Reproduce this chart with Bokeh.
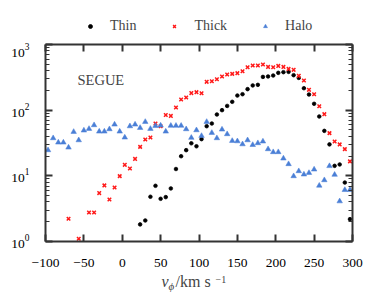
from bokeh.plotting import figure
from bokeh.layouts import column
from bokeh.models import (Legend, LegendItem, LinearAxis, LogAxis, FixedTicker, Label,
                          CustomJSTickFormatter, Range1d)
from bokeh.embed import file_html
from bokeh.resources import INLINE

nan = float("nan")

# bin centres (km/s)
v_phi = [-96.7, -90.0, -83.3, -76.7, -70.0, -63.3, -56.7, -50.0, -43.3, -36.7,
         -30.0, -23.3, -16.7, -10.0, -3.3, 3.3, 10.0, 16.7, 23.3, 30.0,
         36.7, 43.3, 50.0, 56.7, 63.3, 70.0, 76.7, 83.3, 90.0, 96.7,
         103.3, 110.0, 116.7, 123.3, 130.0, 136.7, 143.3, 150.0, 156.7, 163.3,
         170.0, 176.7, 183.3, 190.0, 196.7, 203.3, 210.0, 216.7, 223.3, 230.0,
         236.7, 243.3, 250.0, 256.7, 263.3, 270.0, 276.7, 283.3, 290.0, 296.7]

thin = [nan, nan, nan, nan, nan, nan, nan, nan, nan, nan,
        nan, nan, nan, nan, nan, nan, nan, nan, 1.82, 2.09,
        4.8, 7.05, 4.47, 4.74, 6.43, 12.7, 19.9, 24.6, 31.3, 28.2,
        36.2, 57.0, 62.6, 85.9, 100, 116, 134, 167, 175, 209,
        238, 243, 321, 326, 337, 370, 379, 383, 341, 310,
        216, 173, 125, 80.1, 48.4, 30.1, 14.2, 14.9, 7.9, 2.19]

thick = [nan, nan, nan, nan, 2.22, nan, 1.1, nan, 2.77, 2.77,
         5.46, 7.15, 4.37, 6.66, 9.9, 14.7, 12.9, 18.1, 27.6, 35.8,
         38.4, 62.5, 57.0, 84.3, 81.8, 110, 145, 156, 182, 188,
         181, 270, 276, 296, 326, 349, 357, 366, 392, 451,
         479, 479, 496, 456, 451, 472, 456, 425, 411, 333,
         283, 204, 175, 115, 86.9, 44.7, 33.4, 30.1, 25.5, 16.6]

halo = [24.6, 37.5, 32.2, 32.2, 27.0, 46.8, 34.9, 49.1, 52.0, 59.2,
        47.3, 47.3, 51.4, 60.5, 47.3, 38.4, 57.0, 60.5, 53.8, 66.4,
        52.0, 57.7, 58.4, 47.3, 58.0, 58.0, 58.0, 51.4, 38.0, 49.6,
        40.6, 66.4, 45.2, 37.5, 50.8, 43.2, 34.1, 33.7, 30.3, 34.9,
        29.6, 31.5, 33.4, 25.5, 23.0, 23.0, 18.4, 15.1, 9.9, 11.8,
        10.5, 11.1, 12.5, 7.1, 8.6, 14.1, 10.4, 4.1, 6.1, 6.1]

series_names = ["Thin", "Thick", "Halo"]
x_ticks = [-100, -50, 0, 50, 100, 150, 200, 250, 300]
x_tick_labels = {-100: "\u2212100", -50: "\u221250"}
y_ticks = [1, 10, 100, 1000]
y_minor = [m * 10 ** e for e in range(3) for m in range(2, 10)]

FONT = "Liberation Serif"
AX = "#333333"
W = 366

STY = [dict(marker="circle", size=3.6, fill_color="black", line_color="black", line_width=0.8),
       dict(marker="x", size=5, line_color="#ff1a1a", line_width=1.5),
       dict(marker="triangle", size=5.5, fill_color="#4a7fd6", line_color="#4a7fd6", line_width=0.5)]


def strip(h):
    f = figure(width=W, height=h, output_backend="svg", toolbar_location=None,
               x_axis_location=None, y_axis_location=None,
               x_range=Range1d(-100, 300), y_range=Range1d(1, 1000), y_axis_type="log",
               min_border=0, min_border_left=0, min_border_right=0,
               min_border_top=0, min_border_bottom=0)
    f.xgrid.visible = False
    f.ygrid.visible = False
    f.outline_line_color = None
    return f


# ---- legend strip ----
top = strip(42)
leg_r = [top.scatter(v_phi, vals, visible=False, **s) for vals, s in zip([thin, thick, halo], STY)]
legend = Legend(items=[LegendItem(label=n, renderers=[r]) for n, r in zip(series_names, leg_r)],
                orientation="horizontal", location=(40, 8),
                glyph_width=10, glyph_height=10, label_standoff=15, spacing=33,
                padding=0, margin=0, border_line_color=None, background_fill_alpha=0,
                inactive_fill_alpha=0,
                label_text_font=FONT, label_text_font_size="14px")
top.add_layout(legend, "center")

# ---- main plot ----
p = figure(width=W, height=229, output_backend="svg", toolbar_location=None,
           x_range=Range1d(-100, 300), y_range=Range1d(1, 1000), y_axis_type="log",
           min_border_left=45, min_border_right=14, min_border_top=2, min_border_bottom=30)
p.xgrid.visible = False
p.ygrid.visible = False
p.outline_line_color = None
p.background_fill_color = "white"

blank = CustomJSTickFormatter(code="return ''")


def style(ax):
    ax.axis_line_color = AX
    ax.axis_line_width = 2
    ax.major_tick_line_color = AX
    ax.major_tick_line_width = 2
    ax.major_tick_in = 7
    ax.major_tick_out = 0
    ax.minor_tick_line_color = AX
    ax.minor_tick_line_width = 1
    ax.minor_tick_in = 4
    ax.minor_tick_out = 0
    ax.major_label_text_font = FONT
    ax.major_label_text_font_size = "13.5px"
    ax.major_label_text_color = "black"


xb = p.xaxis[0]
xb.ticker = FixedTicker(ticks=x_ticks, minor_ticks=[])
xb.major_label_overrides = x_tick_labels
xb.major_label_standoff = 17
yl = p.yaxis[0]
yl.ticker = FixedTicker(ticks=y_ticks, minor_ticks=y_minor)
yl.major_label_standoff = 16
xt = LinearAxis(ticker=FixedTicker(ticks=x_ticks, minor_ticks=[]), formatter=blank, major_label_standoff=0)
yr = LogAxis(ticker=FixedTicker(ticks=y_ticks, minor_ticks=y_minor), formatter=blank, major_label_standoff=0)
for a in (xb, xt, yl, yr):
    style(a)
xt.major_label_text_font_size = "0px"
yr.major_label_text_font_size = "0px"
p.add_layout(yr, "right")
p.add_layout(xt, "above")

for vals, s in zip([thin, thick, halo], STY):
    p.scatter(v_phi, vals, **s)

p.add_layout(Label(x=32, y=162, x_units="screen", y_units="screen", text="SEGUE",
                   text_font=FONT, text_font_size="14.5px", text_baseline="alphabetic"))

# ---- axis title strip:  v_phi /km s^-1 ----
bot = strip(28)
lab_kw = dict(x_units="screen", y_units="screen", text_font=FONT, text_baseline="alphabetic")
bot.add_layout(Label(x=116, y=18, text="v", text_font_style="italic", text_font_size="16px", **lab_kw))
bot.add_layout(Label(x=123, y=14, text="\u03d5", text_font_style="italic", text_font_size="11px", **lab_kw))
bot.add_layout(Label(x=130, y=18, text="/km s", text_font_size="16px", **lab_kw))
bot.add_layout(Label(x=170, y=20, text="\u22121", text_font_size="10px", **lab_kw))

layout = column(top, p, bot, spacing=0)
open("out.html", "w").write(file_html(layout, INLINE))
